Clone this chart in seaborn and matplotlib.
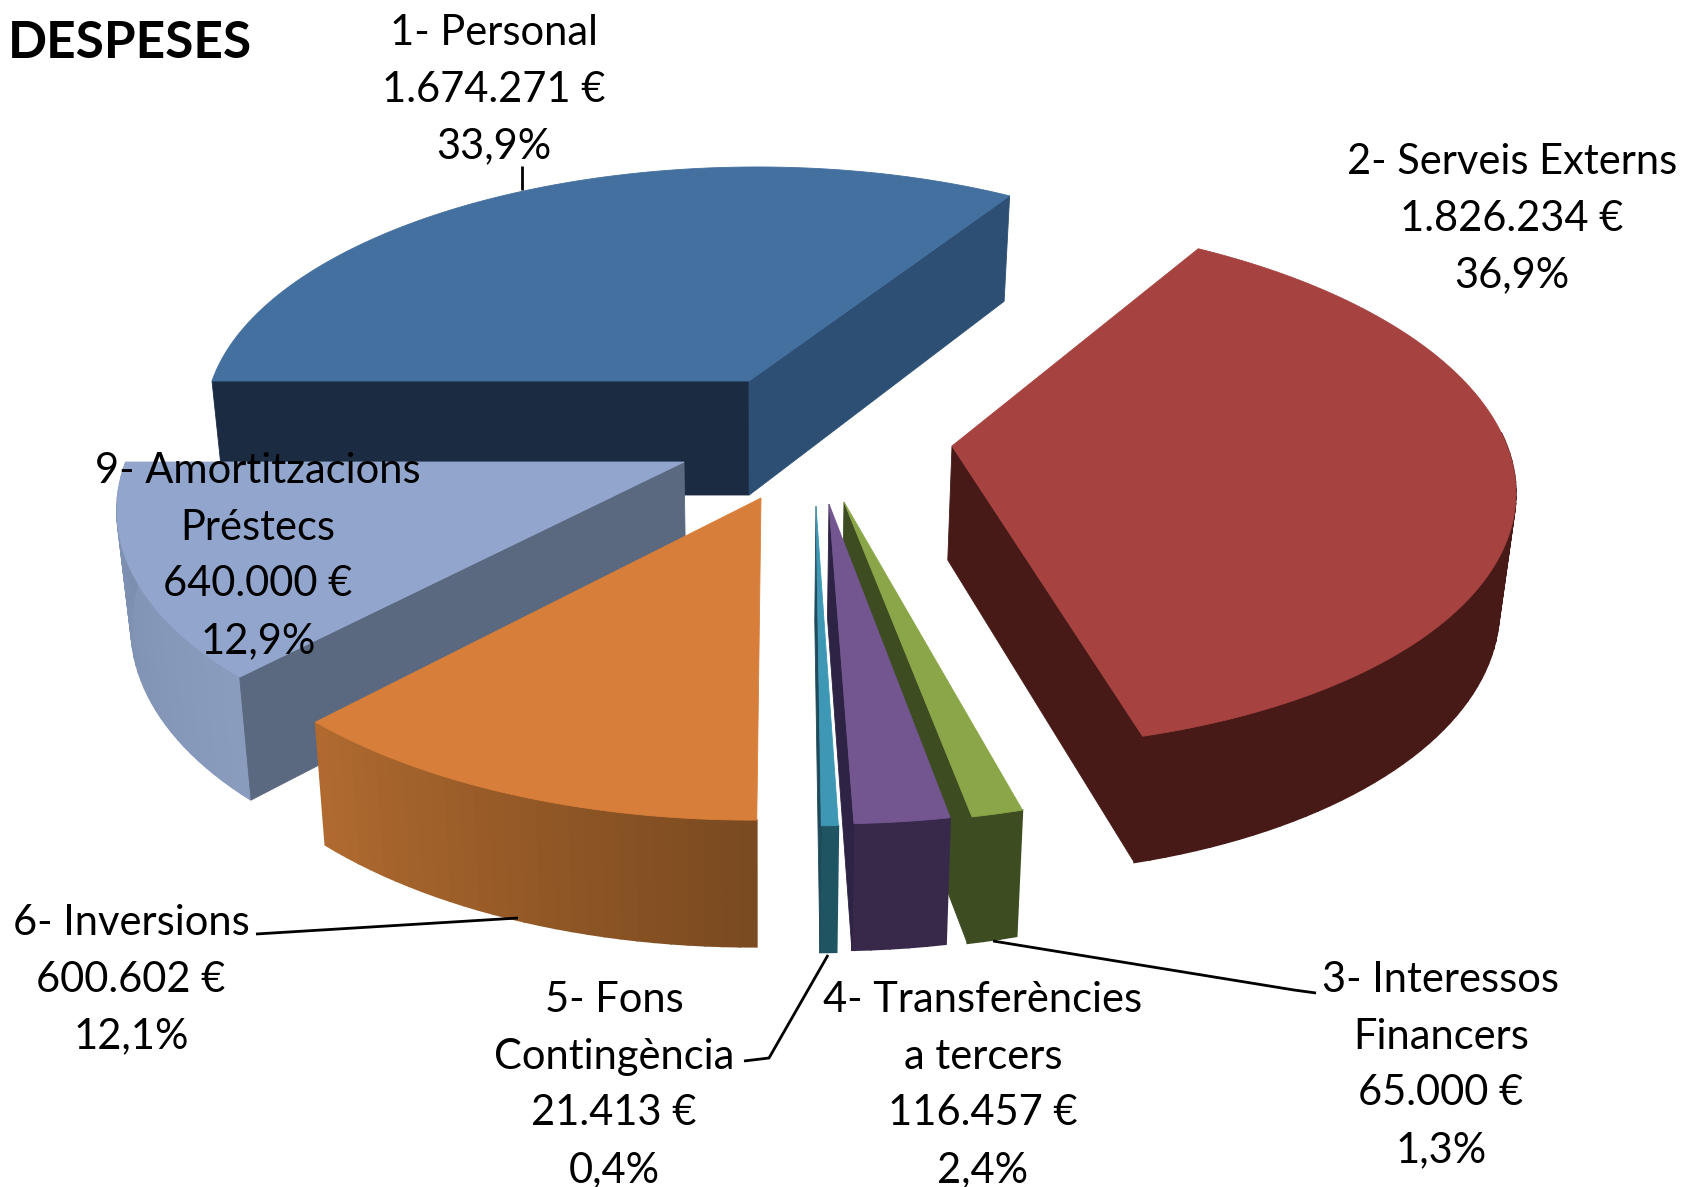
import numpy as np
import matplotlib
matplotlib.use('Agg')
import matplotlib.pyplot as plt
import seaborn as sns

# data
names = [['1- Personal'], ['2- Serveis Externs'], ['3- Interessos', 'Financers'],
         ['4- Transferències', 'a tercers'], ['5- Fons', 'Contingència'],
         ['6- Inversions'], ['9- Amortitzacions', 'Préstecs']]
values = [1674271, 1826234, 65000, 116457, 21413, 600602, 640000]
value_labels = ['1.674.271 €', '1.826.234 €', '65.000 €', '116.457 €', '21.413 €', '600.602 €', '640.000 €']
percent_labels = ['33,9%', '36,9%', '1,3%', '2,4%', '0,4%', '12,1%', '12,9%']

# colours per slice: top, wall, arc left, arc right
top_colors = ['#44709F', '#A6423F', '#8BA648', '#735690', '#3E98B5', '#D77F3A', '#92A6CD']
wall_start = ['#1B2C42', '#471A18', '#3D4C21', '#38294A', '#1F5563', '#7B4A20', '#5A6880']
wall_end = ['#2D4F74', '#471A18', '#3D4C21', '#2E2344', '#1F4A5A', '#7B4A20', '#5A6880']
arc_left = ['#2D4F74', '#471A18', '#3D4C21', '#38294A', '#1F5563', '#B06A2F', '#7C8EB0']
arc_right = ['#2D4F74', '#471A18', '#3D4C21', '#38294A', '#1F5563', '#7A4A20', '#8A9CBE']

# layout of the exploded slices, in pixels of the output
apex_x = [749, 952, 844, 829, 816, 761, 684]
apex_y = [381, 446, 502, 504, 506, 498, 462]
radius_x = [537, 555, 548, 565, 540, 575, 558]
radius_y = [244, 260, 276, 275, 275, 277, 266]
shear = [-65, 150, 85, 20, 10, -50, -155]
draw_order = [0, 1, 6, 5, 2, 3, 4]
persp = 0.14
depth = 114
vanish_x = 760

# label positions, center x and y of the first line
label_x = [494, 1512, 1441, 983, 614, 131, 258]
label_y = [33, 162, 980, 1000, 1000, 923, 471]
line_step = 56.6

leaders = [([522, 522], [166, 190]),
           ([256, 518], [934, 918]),
           ([744, 769, 828], [1061, 1058, 955]),
           ([1316, 1294, 993], [993, 990, 941])]

sns.set_theme(style='white')
plt.rcParams['font.family'] = ['Lato', 'DejaVu Sans']

fig = plt.figure(figsize=(16.84, 11.87), dpi=100)
ax = fig.add_axes([0, 0, 1, 1])
ax.set_xlim(0, 1684)
ax.set_ylim(1187, 0)
ax.axis('off')


def top_point(i, deg):
    a = np.radians(deg)
    s = 1 / (1 + persp * np.sin(a))
    x = apex_x[i] + radius_x[i] * np.cos(a) * s + shear[i] * (s - 1)
    y = apex_y[i] - radius_y[i] * np.sin(a) * s
    return x, y, s


def bottom_point(x, y, s):
    return x + (vanish_x - x) * 0.022, y + depth * s ** 0.7


def draw_wall(i, deg, color, z):
    x, y, s = top_point(i, deg)
    bx, by = bottom_point(x, y, s)
    ax0, ay0 = bottom_point(apex_x[i], apex_y[i], 1)
    ax.fill([apex_x[i], x, bx, ax0], [apex_y[i], y, by, ay0], color=color, lw=0.6, zorder=z)


def draw_slice(i, a0, a1, z):
    # arc side, only the part that faces the viewer
    hi = min(a0, 3)
    if a1 < hi:
        n = max(2, int((hi - a1) / 1.5))
        degs = np.linspace(hi, a1, n + 1)
        pts = [top_point(i, d) for d in degs]
        low = [bottom_point(*p) for p in pts]
        # colours run from left to right on screen
        cols = sns.blend_palette([arc_left[i], arc_right[i]], n)
        if pts[0][0] > pts[-1][0]:
            cols = cols[::-1]
        for k in range(n):
            ax.fill([pts[k][0], pts[k + 1][0], low[k + 1][0], low[k][0]],
                    [pts[k][1], pts[k + 1][1], low[k + 1][1], low[k][1]],
                    color=cols[k], lw=1.2, zorder=z)

    # flat walls, only if they face the viewer
    if np.cos(np.radians(a0)) < 0:
        draw_wall(i, a0, wall_start[i], z)
    if np.cos(np.radians(a1)) > 0:
        draw_wall(i, a1, wall_end[i], z)

    # top face
    degs = np.linspace(a0, a1, 120)
    px = [apex_x[i]] + [top_point(i, d)[0] for d in degs]
    py = [apex_y[i]] + [top_point(i, d)[1] for d in degs]
    ax.fill(px, py, color=top_colors[i], lw=0.6, zorder=z)


# slices go clockwise starting from the left
total = sum(values)
edges = 180 - np.cumsum([0] + values) / total * 360

for z, i in enumerate(draw_order):
    draw_slice(i, edges[i], edges[i + 1], 2 + z)

for xs, ys in leaders:
    ax.plot(xs, ys, color='black', lw=2.0, zorder=20, solid_capstyle='butt')

for i in range(len(values)):
    lines = names[i] + [value_labels[i], percent_labels[i]]
    for j, line in enumerate(lines):
        ax.text(label_x[i], label_y[i] + j * line_step, line, ha='center', va='center',
                fontsize=30, color='black', zorder=30)

ax.text(8, 44, 'DESPESES', ha='left', va='center', fontsize=37, fontweight='bold', color='black', zorder=30)

plt.savefig('out.png', dpi=100)
plt.close()
